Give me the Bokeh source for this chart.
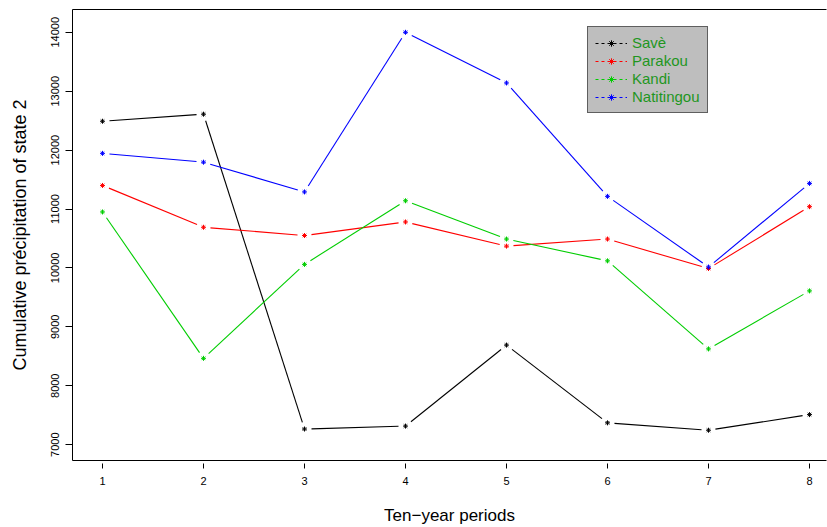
import math
from bokeh.plotting import figure
from bokeh.models import LinearAxis, FixedTicker, Legend, LegendItem, Range1d
from bokeh.embed import file_html
from bokeh.resources import INLINE

# ---- data ----
periods = [1, 2, 3, 4, 5, 6, 7, 8]
save = [12490, 12610, 7265, 7315, 8690, 7370, 7245, 7510]
parakou = [11400, 10690, 10550, 10780, 10370, 10490, 9990, 11040]
kandi = [10950, 8465, 10060, 11140, 10490, 10120, 8625, 9610]
natitingou = [11945, 11795, 11290, 14000, 13140, 11215, 10015, 11435]
station_names = ["Savè", "Parakou", "Kandi", "Natitingou"]
station_colors = ["#000000", "#FF0000", "#00CD00", "#0000FF"]
y_ticks = [7000, 8000, 9000, 10000, 11000, 12000, 13000, 14000]
x_ticks = [1, 2, 3, 4, 5, 6, 7, 8]

# ---- layout ----
W, H = 827, 527
BL, BT, BR, BB = 72, 9, 1, 63
frame_w = W - BL - BR
frame_h = H - BT - BB
px_per_x = 101.0
px_per_y = 416.0 / 7000.0
x_start = 1 - 30.0 / px_per_x
x_end = x_start + frame_w / px_per_x
y_start = 7000 - 16.0 / px_per_y
y_end = y_start + frame_h / px_per_y

FONT = "Liberation Sans"

p = figure(width=W, height=H, output_backend="svg", toolbar_location=None,
           x_range=Range1d(x_start, x_end), y_range=Range1d(y_start, y_end),
           x_axis_location=None, y_axis_location=None,
           min_border_left=BL, min_border_top=BT, min_border_right=BR,
           min_border_bottom=BB,
           outline_line_color=None, outline_line_alpha=0,
           outline_line_width=0)
p.grid.visible = False
p.background_fill_color = "white"
p.border_fill_color = "white"

# left axis (its line is the left side of the box)
ya = LinearAxis(ticker=FixedTicker(ticks=y_ticks))
ya.axis_line_color = "black"
ya.major_tick_in = 0
ya.major_tick_out = 7
ya.minor_tick_line_color = None
ya.major_label_orientation = "vertical"
ya.major_label_text_font = FONT
ya.major_label_text_font_size = "11px"
ya.major_label_text_color = "black"
ya.major_label_standoff = 6
ya.axis_label = "Cumulative précipitation of state 2"
ya.axis_label_text_font = FONT
ya.axis_label_text_font_size = "18px"
ya.axis_label_text_font_style = "normal"
ya.axis_label_text_color = "black"
ya.axis_label_standoff = 19
p.add_layout(ya, "left")

# bottom axis (its line is the bottom of the box; ticks detached)
xa = LinearAxis(ticker=FixedTicker(ticks=x_ticks))
xa.axis_line_color = "black"
xa.major_tick_in = -3
xa.major_tick_out = 8
xa.minor_tick_line_color = None
xa.major_label_text_font = FONT
xa.major_label_text_font_size = "11px"
xa.major_label_text_color = "black"
xa.major_label_standoff = 8
xa.axis_label = "Ten\u2212year periods"
xa.axis_label_text_font = FONT
xa.axis_label_text_font_size = "17px"
xa.axis_label_text_font_style = "normal"
xa.axis_label_text_color = "black"
xa.axis_label_standoff = 18
p.add_layout(xa, "below")

# top axis: only a line (top of the box)
ta = LinearAxis(ticker=FixedTicker(ticks=[]))
ta.axis_line_color = "black"
ta.major_tick_in = 0
ta.major_tick_out = 0
ta.minor_tick_line_color = None
ta.major_label_text_font_size = "0px"
ta.major_label_standoff = 0
ta.axis_label_standoff = 0
p.add_layout(ta, "above")

# ---- series (type "b": lines with gaps around points) ----
GAP = 7.0
series = [save, parakou, kandi, natitingou]
legend_items = []
nan = float("nan")
for name, col, ys in zip(station_names, station_colors, series):
    x0s, y0s, x1s, y1s = [], [], [], []
    for i in range(len(periods) - 1):
        xa0, ya0, xa1, ya1 = periods[i], ys[i], periods[i + 1], ys[i + 1]
        dxp = (xa1 - xa0) * px_per_x
        dyp = (ya1 - ya0) * px_per_y
        L = math.hypot(dxp, dyp)
        f = GAP / L
        x0s.append(xa0 + (xa1 - xa0) * f)
        y0s.append(ya0 + (ya1 - ya0) * f)
        x1s.append(xa1 - (xa1 - xa0) * f)
        y1s.append(ya1 - (ya1 - ya0) * f)
    p.segment(x0=x0s, y0=y0s, x1=x1s, y1=y1s, line_color=col, line_width=1.1)
    p.scatter(periods, ys, marker="asterisk", size=5, line_color=col,
              line_width=1.0)
    # legend-only renderers (dashed line + point), not visible in the plot
    lr = p.line(x=[nan, nan], y=[nan, nan], line_color=col, line_width=1,
                line_dash="3 3")
    mr = p.scatter(x=[nan], y=[nan], marker="asterisk", size=5,
                   line_color=col, line_width=1.0)
    legend_items.append(LegendItem(label=name, renderers=[lr, mr]))

leg = Legend(items=legend_items, location=(515, 347), margin=0,
             padding=7, spacing=1, glyph_width=32, glyph_height=16,
             label_height=16, label_standoff=5,
             label_text_font=FONT, label_text_font_size="15px",
             label_text_color="#1E961E",
             background_fill_color="#BEBEBE", background_fill_alpha=1.0,
             border_line_color="black", border_line_width=1)
p.add_layout(leg, "center")

open("out.html", "w").write(file_html(p, INLINE))
